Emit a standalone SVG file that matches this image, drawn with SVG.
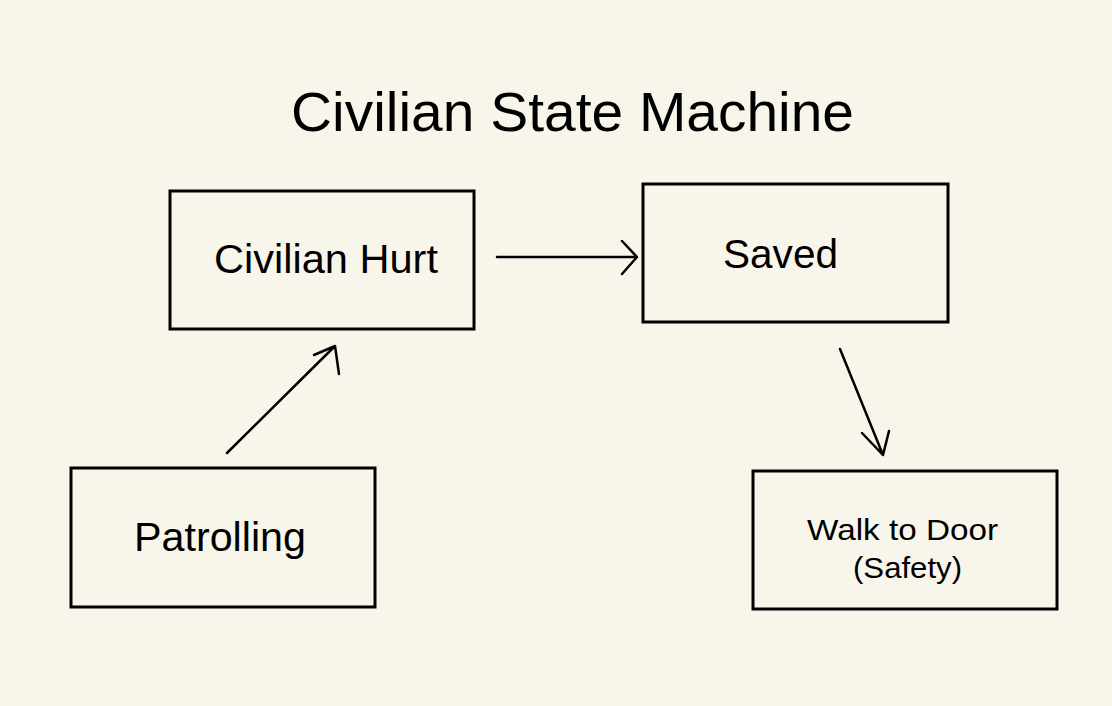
<svg xmlns="http://www.w3.org/2000/svg" width="1112" height="706" viewBox="0 0 1112 706">
<style>
.box{fill:none;stroke:#000;stroke-width:3}
.t{font-family:"Liberation Sans",Arial,sans-serif;fill:#000}
.c{fill:none;stroke:#000;stroke-width:2.5;stroke-linecap:round;stroke-linejoin:round}
</style>
<rect width="1112" height="706" fill="#f8f6eb"/>
<text class="t" x="291" y="131" font-size="55" textLength="563" lengthAdjust="spacingAndGlyphs">Civilian State Machine</text>
<g id="civilian-hurt">
<rect class="box" x="170" y="191" width="304" height="138"/>
<text class="t" x="214" y="273" font-size="40" textLength="224" lengthAdjust="spacingAndGlyphs">Civilian Hurt</text>
</g>
<g id="saved">
<rect class="box" x="643" y="184" width="305" height="138"/>
<text class="t" x="723" y="268" font-size="40" textLength="115" lengthAdjust="spacingAndGlyphs">Saved</text>
</g>
<g id="patrolling">
<rect class="box" x="71" y="468" width="304" height="139"/>
<text class="t" x="134" y="551" font-size="40" textLength="172" lengthAdjust="spacingAndGlyphs">Patrolling</text>
</g>
<g id="walk-to-door">
<rect class="box" x="753" y="471" width="304" height="138"/>
<text class="t" x="807" y="540" font-size="29" textLength="191" lengthAdjust="spacingAndGlyphs">Walk to Door</text>
<text class="t" x="853" y="578" font-size="29" textLength="109" lengthAdjust="spacingAndGlyphs">(Safety)</text>
</g>
<g id="connectors">
<path class="c" d="M497 257 L637 257 M622 241 L637 257 L622 274"/>
<path class="c" d="M227 453 L335 346 M314 355 L335 346 L339 374"/>
<path class="c" d="M840 349 L883 455 M862 433 L883 455 L889 431"/>
</g>
</svg>
